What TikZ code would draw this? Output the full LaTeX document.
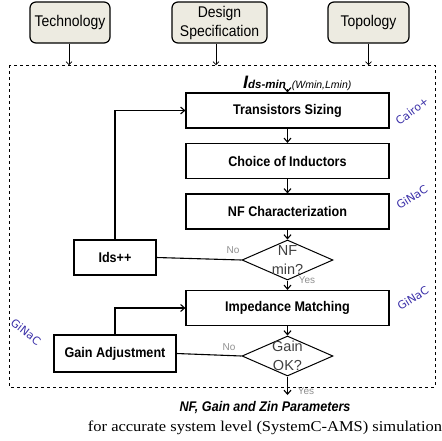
\documentclass[tikz,border=0pt]{standalone}
\usepackage{fontspec}
\setmainfont{Liberation Serif}
\setsansfont{Liberation Sans}
\newfontfamily\dejavu{DejaVu Sans}
\usetikzlibrary{shapes.geometric,arrows.meta}
\definecolor{boxfill}{HTML}{EDEBE1}
\definecolor{toolblue}{HTML}{3A2FA8}
\definecolor{yesno}{HTML}{909090}
\definecolor{dectext}{HTML}{404040}
\newcommand{\narrowtxt}[1]{\scalebox{0.9}[1]{#1}}
\begin{document}
\begin{tikzpicture}[x=1pt,y=1pt,
  inbox/.style={draw=black, fill=boxfill, rounded corners=6pt, line width=1.2pt, minimum width=80pt, minimum height=41pt, inner sep=1pt, font=\sffamily\fontsize{15.5}{19}\selectfont, align=center},
  stepbox/.style={draw, line width=1.2pt, minimum width=203pt, minimum height=35pt, font=\sffamily\bfseries\fontsize{14}{15}\selectfont},
  sidebox/.style={draw, line width=1.2pt, font=\sffamily\bfseries\fontsize{14}{15}\selectfont},
  dec/.style={draw, diamond, line width=1pt, minimum width=91pt, minimum height=40pt, inner sep=0pt},
  dectxt/.style={text=dectext, align=center, inner sep=0pt, font=\sffamily\fontsize{14.5}{19}\selectfont},
  flow/.style={line width=1.1pt, -{Straight Barb[length=4pt,width=7pt]}},
  link/.style={line width=1.1pt},
  thinarrow/.style={line width=0.6pt, -{Straight Barb[length=3pt,width=6pt]}},
  tool/.style={text=toolblue, font=\dejavu\fontsize{11}{12}\selectfont},
  yn/.style={text=yesno, font=\sffamily\fontsize{10}{11}\selectfont}
]
\useasboundingbox (0,0) rectangle (442,-440);

% frame
\draw[dashed, line width=0.7pt] (9,-65) rectangle (435,-387);
\coordinate (ftop) at (9,-65);

% inputs
\node[inbox] (tech) at (70,-22.5) {\narrowtxt{Technology}};
\node[inbox, minimum width=95pt] (spec) at (219.5,-22.5) {\narrowtxt{Design}\\\narrowtxt{Specification}};
\node[inbox, minimum width=81pt] (topo) at (368.5,-22.5) {\narrowtxt{Topology}};
\draw[thinarrow] ([xshift=-1pt]tech.south) -- ([xshift=-1pt]tech.south |- ftop);
\draw[thinarrow] ([xshift=-3.5pt]spec.south) -- ([xshift=-3.5pt]spec.south |- ftop);
\draw[thinarrow] (topo.south) -- (topo.south |- ftop);

% Ids-min
\node[anchor=base west, inner sep=0pt] (idsmin) at (243,-88) {\sffamily\bfseries\itshape{\fontsize{18}{18}\selectfont I}{\fontsize{11.5}{12}\selectfont ds-min}\hspace{6pt}\mdseries{\fontsize{10.5}{12}\selectfont (Wmin,Lmin)}};
\coordinate (idsarr) at (287.5,-89);

% steps
\node[stepbox] (ts) at (287.5,-110.5) {\narrowtxt{Transistors Sizing}};
\node[stepbox] (ci) at (287.5,-161) {\narrowtxt{Choice of Inductors}};
\node[stepbox] (nf) at (287.5,-211.5) {\narrowtxt{NF Characterization}};
\node[dec] (d1) at (287.5,-260) {};
\node[dectxt] (d1t) at (287.5,-260) {NF\\min?};
\node[stepbox] (im) at (287.5,-308) {\narrowtxt{Impedance Matching}};
\node[dec] (d2) at (287.5,-356) {};
\node[dectxt] (d2t) at (287.5,-356) {Gain\\OK?};
\node[sidebox, minimum width=82pt, minimum height=35pt] (ids) at (115,-257.5) {\narrowtxt{Ids++}};
\node[sidebox, minimum width=122pt, minimum height=37pt] (ga) at (115,-353.5) {\narrowtxt{Gain Adjustment}};
\coordinate (outp) at (287.5,-395);

% connectors
\draw[flow] (idsarr) -- (ts.north);
\draw[flow] (ts.south) -- (ci.north);
\draw[flow] (ci.south) -- (nf.north);
\draw[flow] (nf.south) -- (d1.north);
\draw[flow] (d1.south) -- (im.north);
\draw[flow] (im.south) -- (d2.north);
\draw[flow] (d2.south) -- (outp);
\draw[link] (d1.west) -- (ids.east);
\draw[flow] (ids.north) |- (ts.west);
\draw[link] (d2.west) -- (ga.east);
\draw[flow] (ga.north) |- (im.west);

% yes/no
\node[yn] (no1) at (233,-250) {No};
\node[yn] (yes1) at (307,-280) {Yes};
\node[yn] (no2) at (229,-347) {No};
\node[yn] (yes2) at (306,-391) {Yes};

% tools
\node[tool, rotate=37] (cairo) at (412,-111) {Cairo+};
\node[tool, rotate=32] (ginac1) at (412,-197) {GiNaC};
\node[tool, rotate=32] (ginac2) at (413,-298) {GiNaC};
\node[tool, rotate=-38] (ginac3) at (26,-332) {GiNaC};

% output
\node[anchor=base, inner sep=0pt, font=\sffamily\bfseries\itshape\fontsize{14}{15}\selectfont] (res) at (265,-411) {\narrowtxt{NF, Gain and Zin Parameters}};
\node[anchor=base, inner sep=0pt, font=\rmfamily\fontsize{15}{16}\selectfont] (sim) at (265,-431) {\scalebox{1.1}[1]{for accurate system level (SystemC-AMS) simulation}};
\end{tikzpicture}
\end{document}
